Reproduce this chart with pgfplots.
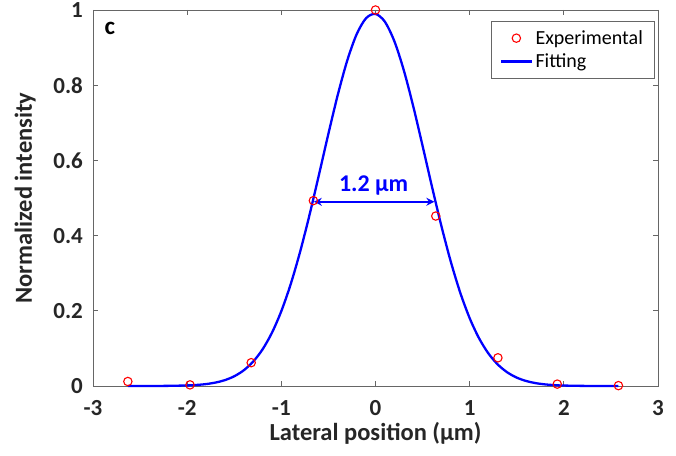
\documentclass[border=0pt]{standalone}
\usepackage{fontspec}
\setmainfont{Carlito}
\usepackage{pgfplots}
\pgfplotsset{compat=1.18}
\usetikzlibrary{arrows.meta}
\pgfplotsset{
  markleg/.style={legend image code/.code={\draw[##1] plot coordinates {(15pt,0pt)};}},
  lineleg/.style={legend image code/.code={\draw[##1] (0pt,0pt) -- (31pt,0pt);}},
}
\begin{document}
\begin{tikzpicture}
\begin{axis}[
  scale only axis,
  width=565pt, height=376pt,
  xmin=-3, xmax=3, ymin=0, ymax=1,
  xtick={-3,-2,-1,0,1,2,3},
  xticklabels={-3,-2,-1,0,1,2,3},
  ytick={0,0.2,0.4,0.6,0.8,1},
  yticklabels={0,0.2,0.4,0.6,0.8,1},
  tick align=inside,
  major tick length=5pt,
  axis line style={gray!80!black, line width=0.7pt},
  tick style={gray!80!black, line width=0.7pt},
  ticklabel style={font=\bfseries\fontsize{23}{23}\selectfont, text=black!85, inner sep=0pt},
  xticklabel style={anchor=center, yshift=-22pt},
  yticklabel style={anchor=east, xshift=-10pt},
  /pgf/number format/assume math mode=true,
  xlabel={Lateral position (µm)},
  ylabel={Normalized intensity},
  label style={font=\bfseries\fontsize{24.5}{24.5}\selectfont, text=black!85},
  xlabel style={at={(axis description cs:0.5,-0.125)}, anchor=center},
  ylabel style={at={(axis description cs:-0.12,0.5)}, anchor=center},
  legend style={at={(0.993,0.97)}, anchor=north east, draw=gray!80!black,
    font=\fontsize{20}{22}\selectfont, inner xsep=9pt, inner ysep=7pt, row sep=4pt},
  legend cell align=left,
  clip=false,
]
\addplot[only marks, mark=o, mark size=4.2pt, red, line width=1.1pt, markleg] coordinates {
  (-2.63,0.012) (-1.97,0.003) (-1.32,0.062) (-0.66,0.493) (0,1.0)
  (0.64,0.452) (1.30,0.075) (1.93,0.005) (2.58,0.001)
};
\addlegendentry{Experimental}
\addplot[blue, line width=2.3pt, smooth, lineleg] coordinates {
  (-2.63,0.0000) (-2.4,0.0001) (-2.2,0.0004) (-2.0,0.0015) (-1.9,0.0028)
  (-1.8,0.0051) (-1.7,0.0091) (-1.6,0.0156) (-1.5,0.0259) (-1.4,0.0416)
  (-1.3,0.0646) (-1.2,0.0972) (-1.1,0.1415) (-1.0,0.1992) (-0.9,0.2713)
  (-0.8,0.3575) (-0.7,0.4558) (-0.6,0.5623) (-0.5,0.6711) (-0.4,0.7749)
  (-0.3,0.8657) (-0.2,0.9356) (-0.1,0.9782) (0,0.9896) (0.1,0.9686)
  (0.2,0.9171) (0.3,0.8402) (0.4,0.7447) (0.5,0.6386) (0.6,0.5298)
  (0.7,0.4253) (0.8,0.3303) (0.9,0.2481) (1.0,0.1804) (1.1,0.1268)
  (1.2,0.0863) (1.3,0.0568) (1.4,0.0362) (1.5,0.0223) (1.6,0.0133)
  (1.7,0.0077) (1.8,0.0043) (1.9,0.0023) (2.0,0.0012) (2.2,0.0003)
  (2.4,0.0001) (2.58,0.0000)
};
\addlegendentry{Fitting}
\draw[blue, line width=2.2pt, {Stealth[length=8pt,width=8pt]}-{Stealth[length=8pt,width=8pt]}]
  (axis cs:-0.655,0.49) -- (axis cs:0.625,0.49);
\node[blue, font=\bfseries\fontsize{24}{24}\selectfont] at (axis cs:-0.02,0.532) {1.2 µm};
\node[font=\bfseries\fontsize{25}{25}\selectfont] at (axis cs:-2.82,0.952) {c};
\end{axis}
\path[use as bounding box] (-93pt,-69pt) rectangle (583pt,386pt);
\end{tikzpicture}
\end{document}
